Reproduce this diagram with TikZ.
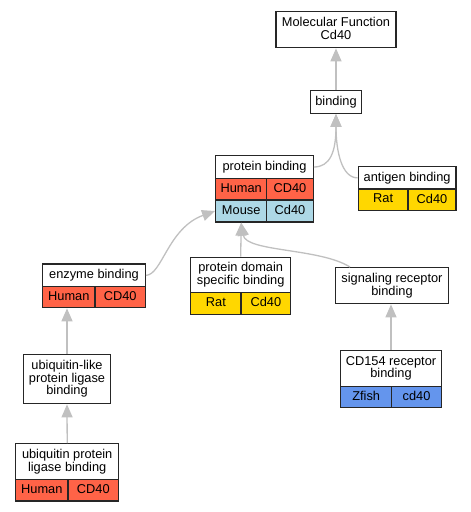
\documentclass[tikz,border=0pt]{standalone}
\usepackage{fontspec}
\setmainfont{Liberation Sans}
\usetikzlibrary{arrows.meta}
\definecolor{edgegray}{HTML}{C0C0C0}
\definecolor{human}{HTML}{FF6347}
\definecolor{mouse}{HTML}{ADD8E6}
\definecolor{rat}{HTML}{FFD700}
\definecolor{zfish}{HTML}{6495ED}
\newcommand\mystrut{\rule[-2.7pt]{0pt}{9.3pt}}
\begin{document}
\begin{tikzpicture}[x=1pt,y=-1pt,
  box/.style={draw=black!85, line width=1.3pt, inner sep=0pt, align=center,
    font=\fontsize{12.8}{12.7}\selectfont, fill=white,
    execute at begin node=\mystrut, execute at end node=\mystrut},
  edge/.style={draw=edgegray, line width=1.3pt, -{Triangle[length=13pt,width=11pt]}}]
\useasboundingbox (0,0) rectangle (471,512);

% Molecular Function
\node[box, minimum width=120pt, minimum height=36pt] (mf) at (336,29.7) {Molecular Function\\Cd40};
% binding
\node[box, minimum width=50.6pt, minimum height=23pt] (bind) at (336,101.8) {binding};
% protein binding
\node[box, minimum width=97.6pt, minimum height=22.6pt] (pbh) at (264.5,167) {protein binding};
\node[box, fill=human, minimum width=51pt, minimum height=21.7pt] (pbhu) at (241.2,189.15) {Human};
\node[box, fill=human, minimum width=46.6pt, minimum height=21.7pt] (pbhc) at (290,189.15) {CD40};
\node[box, fill=mouse, minimum width=51pt, minimum height=22pt] (pbmo) at (241.2,211) {Mouse};
\node[box, fill=mouse, minimum width=46.6pt, minimum height=22pt] (pbmc) at (290,211) {Cd40};
% antigen binding
\node[box, minimum width=97.7pt, minimum height=22.3pt] (agh) at (407.15,177.85) {antigen binding};
\node[box, fill=rat, minimum width=49.7pt, minimum height=21.7pt] (agr) at (383.15,199.85) {Rat};
\node[box, fill=rat, minimum width=48pt, minimum height=21.7pt] (agc) at (432,199.85) {Cd40};
% enzyme binding
\node[box, minimum width=102.6pt, minimum height=22.7pt] (enh) at (94,275.35) {enzyme binding};
\node[box, fill=human, minimum width=52.3pt, minimum height=21pt] (enhu) at (68.85,297.2) {Human};
\node[box, fill=human, minimum width=50.3pt, minimum height=21pt] (enhc) at (120.15,297.2) {CD40};
% protein domain specific binding
\node[box, minimum width=100pt, minimum height=35.4pt] (pdh) at (240.7,275) {protein domain\\specific binding};
\node[box, fill=rat, minimum width=50.3pt, minimum height=21.6pt] (pdr) at (215.85,303.5) {Rat};
\node[box, fill=rat, minimum width=49.7pt, minimum height=21.6pt] (pdc) at (265.85,303.5) {Cd40};
% signaling receptor binding
\node[box, minimum width=112.6pt, minimum height=36pt] (sig) at (392,285.7) {signaling receptor\\binding};
% CD154 receptor binding
\node[box, minimum width=100.6pt, minimum height=36pt] (cdh) at (391,368.3) {CD154 receptor\\binding};
\node[box, fill=zfish, minimum width=51pt, minimum height=21.4pt] (cdz) at (366.2,397) {Zfish};
\node[box, fill=zfish, minimum width=49.6pt, minimum height=21.4pt] (cdc) at (416.5,397) {cd40};
% ubiquitin-like protein ligase binding
\node[box, minimum width=86.6pt, minimum height=49.4pt] (ul) at (67,379) {ubiquitin-like\\protein ligase\\binding};
% ubiquitin protein ligase binding
\node[box, minimum width=103pt, minimum height=35.6pt] (uph) at (67.2,461.5) {ubiquitin protein\\ligase binding};
\node[box, fill=human, minimum width=52.3pt, minimum height=21.7pt] (uphu) at (41.85,490.15) {Human};
\node[box, fill=human, minimum width=50.7pt, minimum height=21.7pt] (uphc) at (93.35,490.15) {CD40};

% edges
\draw[edge] (bind.north) -- (mf.south);
\draw[edge] (pbh.east) .. controls (330,167) and (336,152) .. (bind.south);
\draw[edge] (agh.west) .. controls (342,178) and (336,152) .. (bind.south);
\draw[edge] (enh.east) .. controls (162,275) and (168,228) .. (pbmo.west);
\draw[edge] (pdh.north) -- (pbmo.south);
\draw[edge] ([xshift=15pt]sig.north west) .. controls (320,248) and (246,252) .. (pbmo.south);
\draw[edge] (ul.north) -- (ul.north |- enhu.south);
\draw[edge] (uph.north) -- (ul.south);
\draw[edge] (cdh.north) -- (cdh.north |- sig.south);
\end{tikzpicture}
\end{document}
